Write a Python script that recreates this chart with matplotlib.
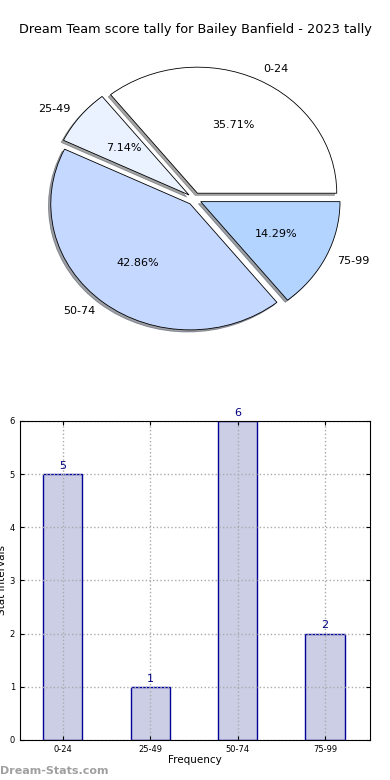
import matplotlib
matplotlib.use("Agg")
import matplotlib.pyplot as plt

# Data
intervals = ["0-24", "25-49", "50-74", "75-99"]
counts = [5, 1, 6, 2]
pie_colors = ["#ffffff", "#eaf2ff", "#c5d8ff", "#b3d4ff"]
title = "Dream Team score tally for Bailey Banfield - 2023 tally"

fig = plt.figure(figsize=(3.9, 7.8), dpi=100)

# Pie chart
ax1 = fig.add_axes([0.052, 0.543, 0.893, 0.404])
wedges, texts, autotexts = ax1.pie(
    counts, labels=intervals, colors=pie_colors, explode=[0.05] * len(counts),
    autopct="%1.2f%%", shadow=dict(ox=-0.012, oy=-0.012), startangle=0,
    wedgeprops=dict(edgecolor="black", linewidth=0.6),
    textprops=dict(fontsize=8), labeldistance=1.09)
ax1.set_aspect("auto")
ax1.set_xlim(-1.25, 1.25)
ax1.set_ylim(-1.25, 1.25)
fig.text(0.5, 0.962, title, ha="center", va="center", fontsize=9.25)

# Bar chart
ax2 = fig.add_axes([0.051, 0.0513, 0.897, 0.409])
x = list(range(len(intervals)))
ax2.bar(x, counts, width=0.45, color="#ccceE6", edgecolor="#000099", linewidth=1, zorder=2)
for xi, c in zip(x, counts):
    ax2.text(xi, c + 0.06, str(c), ha="center", va="bottom", color="#000080", fontsize=8)
ax2.set_xlim(-0.49, 3.51)
ax2.set_ylim(0, 6)
ax2.set_xticks(x)
ax2.set_xticklabels(intervals)
ax2.set_yticks(range(0, 7))
ax2.tick_params(labelsize=6, direction="in", length=3, top=True, right=True)
ax2.grid(True, linestyle=":", color="#aaaaaa", linewidth=1, zorder=3)
ax2.set_axisbelow(False)
for sp in ax2.spines.values():
    sp.set_zorder(4)
ax2.set_xlabel("Frequency", fontsize=7.5, labelpad=1)
ax2.set_ylabel("Stat Intervals", fontsize=7.5, labelpad=2)

fig.text(0.0, 0.012, "Dream-Stats.com", ha="left", va="center", fontsize=8,
         color="#a0a0a0", fontweight="bold")

fig.savefig("out.png", dpi=100)
